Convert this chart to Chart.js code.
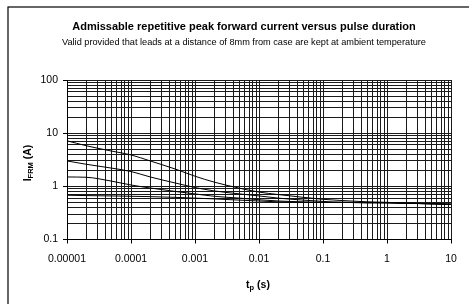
<!DOCTYPE html>
<html>
<head>
<meta charset="utf-8">
<script src="https://cdn.jsdelivr.net/npm/chart.js@4"></script>
<style>
  html, body { margin: 0; padding: 0; background: #fff; }
  canvas { display: block; }
</style>
</head>
<body>
<canvas id="ifrmChart" width="469" height="304"></canvas>
<script>
// pulse duration tp (s)
var pulseTimes = [1e-5, 2e-5, 5e-5, 1e-4, 2e-4, 5e-4, 1e-3, 2e-3, 5e-3, 1e-2, 2e-2, 5e-2, 0.1, 0.2, 0.5, 1, 2, 5, 10];
// IFRM (A), top to bottom
var curveA = [7.2, 5.8, 4.6, 3.9, 3.0, 2.1, 1.55, 1.2, 0.92, 0.78, 0.7, 0.62, 0.57, 0.54, 0.51, 0.5, 0.48, 0.47, 0.46];
var curveB = [3.0, 2.6, 2.2, 1.9, 1.5, 1.15, 0.95, 0.82, 0.72, 0.66, 0.6, 0.55, 0.52, 0.5, 0.5, 0.49, 0.48, 0.47, 0.46];
var curveC = [1.5, 1.48, 1.25, 1.06, 0.93, 0.8, 0.72, 0.65, 0.6, 0.56, 0.53, 0.51, 0.5, 0.5, 0.49, 0.49, 0.48, 0.47, 0.46];
var curveD = [0.68, 0.67, 0.66, 0.65, 0.64, 0.62, 0.6, 0.58, 0.55, 0.53, 0.51, 0.5, 0.5, 0.5, 0.49, 0.49, 0.48, 0.47, 0.46];

// axis decades and their labels
var xDecades = [1e-5, 1e-4, 1e-3, 1e-2, 0.1, 1, 10];
var xTickLabels = ['0.00001', '0.0001', '0.001', '0.01', '0.1', '1', '10'];
var yDecades = [0.1, 1, 10, 100];
var yTickLabels = ['0.1', '1', '10', '100'];

var chartTitle = 'Admissable repetitive peak forward current versus pulse duration';
var chartSubtitle = 'Valid provided that leads at a distance of 8mm from case are kept at ambient temperature';

var FONT = '"Liberation Sans", Arial, sans-serif';

// 1..9 per decade, so every grid line of the log paper is drawn
function logPaper(decades) {
    var out = [];
    decades.forEach(function (d, i) {
        if (i === decades.length - 1) { out.push(d); return; }
        for (var m = 1; m <= 9; m++) out.push(+(d * m).toPrecision(6));
    });
    return out;
}

function isDecade(list, v) {
    return list.some(function (d) { return Math.abs(v / d - 1) < 1e-6; });
}

function labelFor(list, labels, v) {
    for (var i = 0; i < list.length; i++) {
        if (Math.abs(v / list[i] - 1) < 1e-6) return labels[i];
    }
    return '';
}

function series(values) {
    return pulseTimes.map(function (t, i) { return { x: t, y: values[i] }; });
}

var lineStyle = {
    borderColor: '#000',
    borderWidth: 1,
    pointRadius: 0,
    fill: false,
    showLine: true,
    cubicInterpolationMode: 'monotone'
};

// titles, frame and sub-scripted axis titles
var decorations = {
    id: 'decorations',
    beforeDraw: function (chart) {
        var ctx = chart.ctx;
        ctx.save();
        ctx.fillStyle = '#fff';
        ctx.fillRect(0, 0, chart.width, chart.height);
        ctx.strokeStyle = '#000';
        ctx.lineWidth = 1.2;
        ctx.strokeRect(8, 7, 600, 400);
        ctx.restore();
    },
    afterDraw: function (chart) {
        var ctx = chart.ctx;
        ctx.save();
        ctx.fillStyle = '#000';
        ctx.textAlign = 'center';
        ctx.textBaseline = 'middle';
        ctx.font = 'bold 11px ' + FONT;
        ctx.fillText(chartTitle, 244, 27);
        ctx.font = '9.2px ' + FONT;
        ctx.fillText(chartSubtitle, 244, 42);

        // pieces: [text, size, isSub]
        function drawPieces(pieces, cx, baseY) {
            var total = 0;
            pieces.forEach(function (p) {
                ctx.font = 'bold ' + p[1] + 'px ' + FONT;
                total += ctx.measureText(p[0]).width;
            });
            var x = cx - total / 2;
            ctx.textAlign = 'left';
            ctx.textBaseline = 'alphabetic';
            pieces.forEach(function (p) {
                ctx.font = 'bold ' + p[1] + 'px ' + FONT;
                ctx.fillText(p[0], x, baseY + (p[2] ? 2 : 0));
                x += ctx.measureText(p[0]).width;
            });
        }

        drawPieces([['t', 10.5, false], ['p', 7.5, true], [' (s)', 10.5, false]], 258, 288);

        ctx.translate(31, 163);
        ctx.rotate(-Math.PI / 2);
        drawPieces([['I', 10.5, false], ['FRM', 7.5, true], [' (A)', 10.5, false]], 0, 0);
        ctx.restore();
    }
};

new Chart(document.getElementById('ifrmChart'), {
    type: 'scatter',
    data: {
        datasets: [
            Object.assign({ label: 'A', data: series(curveA) }, lineStyle),
            Object.assign({ label: 'B', data: series(curveB) }, lineStyle),
            Object.assign({ label: 'C', data: series(curveC) }, lineStyle),
            Object.assign({ label: 'D', data: series(curveD) }, lineStyle)
        ]
    },
    options: {
        responsive: false,
        animation: false,
        devicePixelRatio: 1,
        layout: { padding: { left: 0, top: 80, right: 18, bottom: 0 } },
        plugins: {
            legend: { display: false },
            tooltip: { enabled: false }
        },
        scales: {
            x: {
                type: 'logarithmic',
                min: 1e-5,
                max: 10,
                afterBuildTicks: function (scale) {
                    scale.ticks = logPaper(xDecades).map(function (v) { return { value: v }; });
                },
                afterFit: function (scale) { scale.height = 64.5; },
                ticks: {
                    autoSkip: false,
                    maxRotation: 0,
                    padding: 9,
                    color: '#000',
                    font: { family: FONT, size: 10.5 },
                    callback: function (v) { return labelFor(xDecades, xTickLabels, v); }
                },
                grid: {
                    color: '#1a1a1a',
                    lineWidth: 1,
                    tickLength: 4,
                    tickColor: function (c) {
                        return c.tick && isDecade(xDecades, c.tick.value) ? '#000' : 'rgba(0,0,0,0)';
                    }
                },
                border: { color: '#000', width: 1 }
            },
            y: {
                type: 'logarithmic',
                min: 0.1,
                max: 100,
                afterBuildTicks: function (scale) {
                    scale.ticks = logPaper(yDecades).map(function (v) { return { value: v }; });
                },
                afterFit: function (scale) { scale.width = 67; },
                ticks: {
                    autoSkip: false,
                    padding: 5,
                    color: '#000',
                    font: { family: FONT, size: 10.5 },
                    callback: function (v) { return labelFor(yDecades, yTickLabels, v); }
                },
                grid: {
                    color: '#1a1a1a',
                    lineWidth: 1,
                    tickLength: 4,
                    tickColor: function (c) {
                        return c.tick && isDecade(yDecades, c.tick.value) ? '#000' : 'rgba(0,0,0,0)';
                    }
                },
                border: { color: '#000', width: 1 }
            }
        }
    },
    plugins: [decorations]
});
</script>
</body>
</html>
